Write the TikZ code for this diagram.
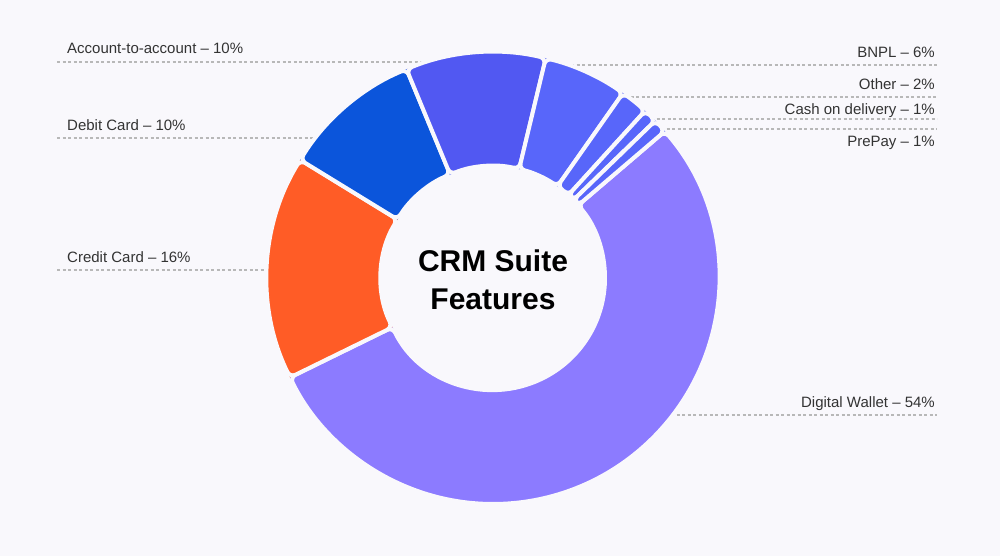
\documentclass[tikz,border=0pt]{standalone}
\usepackage{fontspec}
\setmainfont{Liberation Sans}
\usetikzlibrary{calc}
\begin{document}
\begin{tikzpicture}[x=1pt,y=-1pt,
  lbl/.style={font=\fontsize{15}{18}\selectfont, text=black!80, inner sep=0pt},
  guide/.style={draw=black!28, line width=1.3pt, dash pattern=on 3pt off 2.5pt},
  seg/.style={draw=bgc, line width=4pt, rounded corners=6pt}]
\definecolor{bgc}{HTML}{F9F8FC}
\definecolor{cA}{HTML}{5158F2}
\definecolor{cD}{HTML}{0B55DB}
\definecolor{cC}{HTML}{FF5C26}
\definecolor{cB}{HTML}{5866FA}
\definecolor{cW}{HTML}{8C7BFF}
\fill[bgc] (0,0) rectangle (1000,556);
\useasboundingbox (0,0) rectangle (1000,556);
% guides
\foreach \a/\b/\y in {57/440/62, 57/330/138, 57/290/270, 560/937/65, 625/937/97, 640/937/119, 650/937/129, 660/937/415}
  \draw[guide] (\a,\y) -- (\b,\y);
\coordinate (O) at (493,278);
\def\R{226}\def\r{112}
\newcommand{\myseg}[3]{%
  \fill[#3] ($(O)+({\R*sin(#1)},{-\R*cos(#1)})$) arc[start angle={#1-90}, end angle={#2-90}, radius=\R]
   -- ($(O)+({\r*sin(#2)},{-\r*cos(#2)})$) arc[start angle={#2-90}, end angle={#1-90}, radius=\r] -- cycle;
  \draw[seg] ($(O)+({\R*sin(#1)},{-\R*cos(#1)})$) arc[start angle={#1-90}, end angle={#2-90}, radius=\R]
   -- ($(O)+({\r*sin(#2)},{-\r*cos(#2)})$) arc[start angle={#2-90}, end angle={#1-90}, radius=\r] -- cycle;}
\myseg{49.5}{243.9}{cW}
\myseg{243.9}{301.5}{cC}
\myseg{301.5}{337.5}{cD}
\myseg{337.5}{373.5}{cA}
\myseg{13.5}{35.1}{cB}
\myseg{35.1}{42.3}{cB}
\myseg{42.3}{45.9}{cB}
\myseg{45.9}{49.5}{cB}
\node[font=\fontsize{30}{38}\selectfont\bfseries, align=center] (t) at (493,280) {CRM Suite\\Features};
\node[lbl, anchor=base west] (l1) at (67,54) {Account-to-account – 10\%};
\node[lbl, anchor=base west] (l2) at (67,131) {Debit Card – 10\%};
\node[lbl, anchor=base west] (l3) at (67,262) {Credit Card – 16\%};
\node[lbl, anchor=base east] (l4) at (935,58) {BNPL – 6\%};
\node[lbl, anchor=base east] (l5) at (935,90) {Other – 2\%};
\node[lbl, anchor=base east] (l6) at (935,115) {Cash on delivery – 1\%};
\node[lbl, anchor=base east] (l7) at (935,147) {PrePay – 1\%};
\node[lbl, anchor=base east] (l8) at (935,407) {Digital Wallet – 54\%};
\end{tikzpicture}
\end{document}
